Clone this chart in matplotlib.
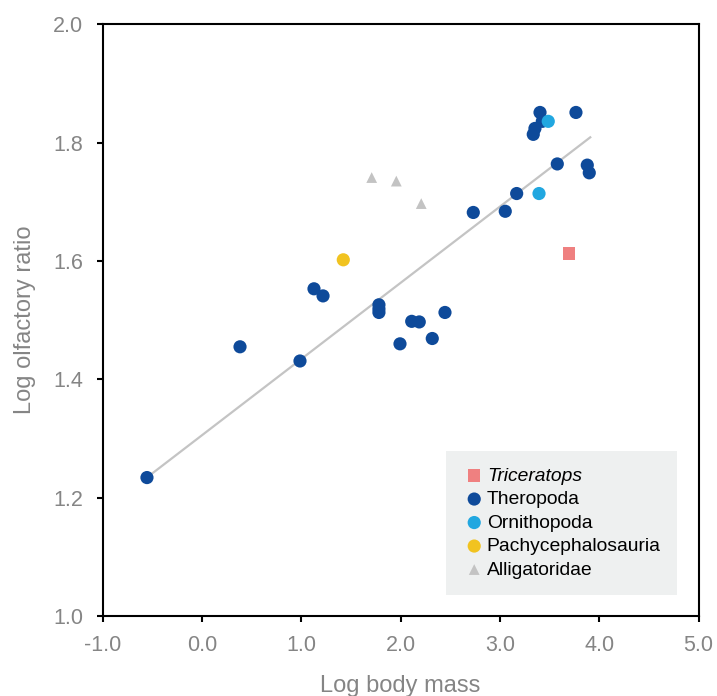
import numpy as np
import matplotlib
matplotlib.use("Agg")
import matplotlib.pyplot as plt

plt.rcParams['font.family'] = ['Liberation Sans', 'DejaVu Sans']

# values (log body mass, log olfactory ratio)
theropoda_x = [-0.554, 0.383, 0.987, 1.128, 1.219, 1.782, 1.782, 1.782, 2.112, 2.188,
               1.994, 2.319, 2.447, 2.732, 3.054, 3.169, 3.404, 3.427, 3.353, 3.336,
               3.578, 3.766, 3.880, 3.900]
theropoda_y = [1.234, 1.455, 1.431, 1.553, 1.541, 1.526, 1.519, 1.513, 1.498, 1.497,
               1.460, 1.469, 1.513, 1.682, 1.684, 1.714, 1.851, 1.836, 1.824, 1.814,
               1.764, 1.851, 1.762, 1.749]
ornithopoda_x = [3.487, 3.394]
ornithopoda_y = [1.836, 1.714]
pachy_x = [1.423]
pachy_y = [1.602]
triceratops_x = [3.696]
triceratops_y = [1.613]
alligator_x = [1.709, 1.957, 2.208]
alligator_y = [1.741, 1.735, 1.697]
fit_x = [-0.54, 3.91]
fit_y = [1.236, 1.809]

grey = '#858585'

fig = plt.figure(figsize=(7.17, 6.96), dpi=100)
ax = fig.add_axes([0.1432, 0.1149, 0.8310, 0.8502])

ax.plot(fit_x, fit_y, color='#c4c4c4', lw=1.6, zorder=1)

ax.scatter(triceratops_x, triceratops_y, marker='s', s=80, color='#ef8080',
           edgecolors='none', label='Triceratops', zorder=3)
ax.scatter(theropoda_x, theropoda_y, marker='o', s=90, color='#0e4a9a',
           edgecolors='none', label='Theropoda', zorder=3)
ax.scatter(ornithopoda_x, ornithopoda_y, marker='o', s=90, color='#21a7e0',
           edgecolors='none', label='Ornithopoda', zorder=4)
ax.scatter(pachy_x, pachy_y, marker='o', s=90, color='#f1c320',
           edgecolors='none', label='Pachycephalosauria', zorder=3)
ax.scatter(alligator_x, alligator_y, marker='^', s=60, color='#c3c3c3',
           edgecolors='none', label='Alligatoridae', zorder=3)

ax.set_xlim(-1, 5)
ax.set_ylim(1.0, 2.0)
ax.set_xticks(np.arange(-1, 5.1, 1.0))
ax.set_yticks(np.arange(1.0, 2.01, 0.2))
ax.set_xticklabels(['%.1f' % v for v in np.arange(-1, 5.1, 1.0)])
ax.set_yticklabels(['%.1f' % v for v in np.arange(1.0, 2.01, 0.2)])

for s in ax.spines.values():
    s.set_linewidth(1.5)
ax.tick_params(direction='out', length=4, width=1.5, labelsize=15.5,
               labelcolor=grey, pad=10)

ax.set_xlabel('Log body mass', fontsize=17, color=grey, labelpad=13)
ax.set_ylabel('Log olfactory ratio', fontsize=17, color=grey, labelpad=12)

leg = ax.legend(loc='lower right', bbox_to_anchor=(0.964, 0.0355), borderaxespad=0,
                fontsize=13.9, frameon=True, fancybox=False, facecolor='#eef0f0',
                edgecolor='none', framealpha=1, handletextpad=0.05, labelspacing=0.31,
                borderpad=0.85, handlelength=1.2, scatterpoints=1)
leg.get_texts()[0].set_fontstyle('italic')

fig.savefig('out.png', dpi=100)
